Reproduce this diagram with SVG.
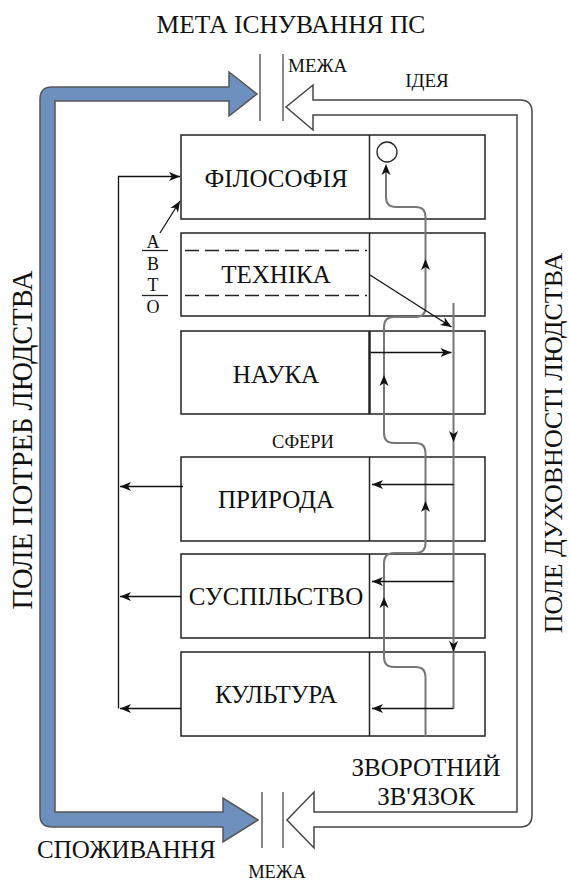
<svg xmlns="http://www.w3.org/2000/svg" xmlns:xlink="http://www.w3.org/1999/xlink" width="570" height="882" viewBox="0 0 570 882" font-family="'Liberation Serif', 'Times New Roman', serif">
<style>
text{font-family:'Liberation Serif','Times New Roman',serif;fill:#111}
.big{font-size:25px}
.box{fill:#fff;stroke:#222;stroke-width:1.5}
.div{stroke:#222;stroke-width:1.5}
.ln{fill:none;stroke:#111;stroke-width:1.3}
.gr{fill:none;stroke:#777;stroke-width:2}
.gl{fill:none;stroke:#888;stroke-width:2}
.sm{font-size:19px}
.avto{font-size:18px}
</style>
<defs>
<marker id="arr" viewBox="-12 -6 13 12" refX="0" refY="0" markerWidth="13" markerHeight="12" orient="auto" markerUnits="userSpaceOnUse"><path d="M0,0 L-11,-4.5 L-8,0 L-11,4.5 Z" fill="#111"/></marker>
<path id="ah" d="M0,0 L-11,-4.5 L-8,0 L-11,4.5 Z" fill="#111"/>
</defs>
<rect width="570" height="882" fill="#fff"/>

<text x="291" y="33" font-size="25.5" text-anchor="middle">МЕТА ІСНУВАННЯ ПС</text>

<g id="fields">
<path d="M229,87 L229,72 L257,94 L229,116 L229,101 L55,101 L55,812 L223,812 L223,798 L258,820 L223,842 L223,827 L52,827 Q40,827 40,815 L40,99 Q40,87 52,87 Z" fill="#6e90bf" stroke="#555" stroke-width="1.5"/>
<path d="M313,100 L313,85 L286,107 L313,130 L313,115 L517,115 L517,812 L314,812 L314,792 L287,820 L314,848 L314,827 L520,827 Q532,827 532,815 L532,112 Q532,100 520,100 Z" fill="#fff" stroke="#444" stroke-width="1.5"/>
<line x1="260" y1="54" x2="260" y2="121" class="gl"/>
<line x1="283" y1="54" x2="283" y2="121" class="gl"/>
<line x1="262" y1="792" x2="262" y2="848" class="gl"/>
<line x1="283" y1="792" x2="283" y2="848" class="gl"/>
<text x="288" y="72" class="sm">МЕЖА</text>
<text x="427" y="87" class="sm" text-anchor="middle">ІДЕЯ</text>
<text x="277" y="878" font-size="18.5" text-anchor="middle">МЕЖА</text>
<text x="37" y="858" class="big">СПОЖИВАННЯ</text>
<text x="426" y="776" class="big" text-anchor="middle">ЗВОРОТНИЙ</text>
<text x="426" y="805" class="big" text-anchor="middle">ЗВ'ЯЗОК</text>
<text transform="translate(32,440) rotate(-90)" font-size="28.5" text-anchor="middle">ПОЛЕ ПОТРЕБ ЛЮДСТВА</text>
<text transform="translate(562,443) rotate(-90)" font-size="26" text-anchor="middle">ПОЛЕ ДУХОВНОСТІ ЛЮДСТВА</text>
</g>

<g id="n-filosofia">
<rect x="181" y="135" width="304" height="84" class="box"/>
<line x1="369.5" y1="135" x2="369.5" y2="219" class="div"/>
<text x="276" y="187" class="big" text-anchor="middle">ФІЛОСОФІЯ</text>
<circle cx="387" cy="152" r="10" fill="#fff" stroke="#222" stroke-width="1.3"/>
</g>
<g id="n-tehnika">
<rect x="181" y="233" width="304" height="83" class="box"/>
<line x1="369.5" y1="233" x2="369.5" y2="316" class="div"/>
<line x1="185" y1="250.5" x2="367" y2="250.5" stroke="#222" stroke-width="1.3" stroke-dasharray="14 6"/>
<line x1="185" y1="295.5" x2="367" y2="295.5" stroke="#222" stroke-width="1.3" stroke-dasharray="14 6"/>
<text x="276" y="283" class="big" text-anchor="middle">ТЕХНІКА</text>
</g>
<g id="n-nauka">
<rect x="181" y="331" width="304" height="83" class="box"/>
<line x1="369.5" y1="331" x2="369.5" y2="414" stroke="#222" stroke-width="2.5"/>
<text x="276" y="383" class="big" text-anchor="middle">НАУКА</text>
</g>
<g id="n-pryroda">
<rect x="181" y="457" width="304" height="84" class="box"/>
<line x1="369.5" y1="457" x2="369.5" y2="541" class="div"/>
<text x="276" y="508" class="big" text-anchor="middle">ПРИРОДА</text>
</g>
<g id="n-suspilstvo">
<rect x="181" y="554" width="304" height="84" class="box"/>
<line x1="369.5" y1="554" x2="369.5" y2="638" class="div"/>
<text x="276" y="605" class="big" text-anchor="middle">СУСПІЛЬСТВО</text>
</g>
<g id="n-kultura">
<rect x="181" y="652" width="304" height="84" class="box"/>
<line x1="369.5" y1="652" x2="369.5" y2="736" class="div"/>
<text x="276" y="703" class="big" text-anchor="middle">КУЛЬТУРА</text>
</g>

<g id="labels">
<text x="303" y="448" font-size="18.5" text-anchor="middle">СФЕРИ</text>
<text x="153" y="247.5" class="avto" text-anchor="middle">А</text>
<text x="153" y="270" class="avto" text-anchor="middle">В</text>
<text x="153" y="291" class="avto" text-anchor="middle">Т</text>
<text x="153" y="312.5" class="avto" text-anchor="middle">О</text>
<line x1="142" y1="250.5" x2="168" y2="250.5" stroke="#222" stroke-width="1.3"/>
<line x1="142" y1="295.5" x2="168" y2="295.5" stroke="#222" stroke-width="1.3"/>
</g>

<g id="connectors">
<polyline points="118.5,708.5 118.5,176.5 180,176.5" class="ln" stroke="#444" marker-end="url(#arr)"/>
<line x1="183" y1="486.5" x2="120" y2="486.5" class="ln" marker-end="url(#arr)"/>
<line x1="181" y1="596.5" x2="120" y2="596.5" class="ln" marker-end="url(#arr)"/>
<line x1="181" y1="708.5" x2="120" y2="708.5" class="ln" marker-end="url(#arr)"/>
<line x1="160" y1="233" x2="180" y2="201" class="ln" marker-end="url(#arr)"/>

<path d="M425.5,736.5 L425.5,677 Q425.5,667 415.5,667 L394,667 Q384,667 384,657 L384,563 Q384,553 394,553 L415.5,553 Q425.5,553 425.5,543 L425.5,453 Q425.5,443 415.5,443 L394,443 Q384,443 384,433 L384,327 Q384,317 394,317 L415.5,317 Q425.5,317 425.5,307 L425.5,217 Q425.5,207 415.5,207 L396,207 Q386,207 386,197 L386,168" class="gr"/>
<use xlink:href="#ah" transform="translate(386,164) rotate(-90)"/>
<use xlink:href="#ah" transform="translate(425.5,259) rotate(-90)"/>
<use xlink:href="#ah" transform="translate(384,375) rotate(-90)"/>
<use xlink:href="#ah" transform="translate(425.5,501) rotate(-90)"/>
<use xlink:href="#ah" transform="translate(384,597) rotate(-90)"/>

<line x1="453.5" y1="303" x2="453.5" y2="708.5" class="gr"/>
<use xlink:href="#ah" transform="translate(453.5,442) rotate(90)"/>
<use xlink:href="#ah" transform="translate(453.5,652) rotate(90)"/>
<line x1="370" y1="275" x2="451.5" y2="327" class="ln" marker-end="url(#arr)"/>
<line x1="370.5" y1="352.5" x2="451.5" y2="352.5" class="ln" marker-end="url(#arr)"/>
<line x1="453.5" y1="484.5" x2="372" y2="484.5" class="ln" marker-end="url(#arr)"/>
<line x1="453.5" y1="581.5" x2="372" y2="581.5" class="ln" marker-end="url(#arr)"/>
<line x1="453.5" y1="708.5" x2="372" y2="708.5" class="ln" marker-end="url(#arr)"/>
</g>
</svg>
